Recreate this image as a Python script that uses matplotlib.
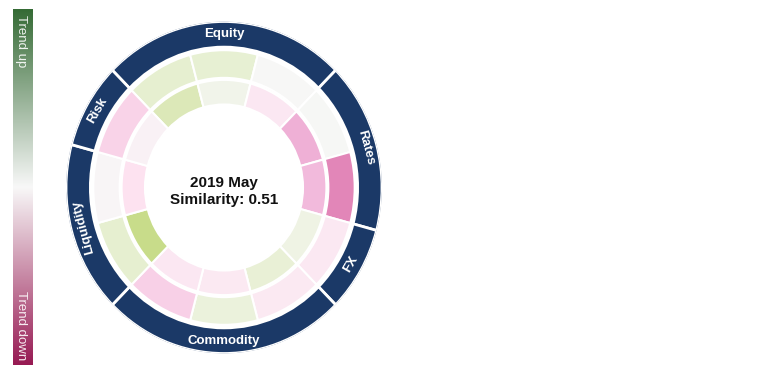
import numpy as np
import matplotlib
matplotlib.use("Agg")
import matplotlib.pyplot as plt
from matplotlib.colors import LinearSegmentedColormap, Normalize


# =========================
# data
# =========================
categories = ["Equity", "Rates", "FX", "Commodity", "Liquidity", "Risk"]
category_slots = [3, 2, 1, 3, 2, 1]   # number of 30° slots per category

# one value per slot, clockwise from the left edge of Equity (-1 = trend down, +1 = trend up)
outer_values = [0.20, 0.18, 0.00, 0.01, -0.55, -0.13, -0.12, 0.14, -0.28, 0.20, -0.02, -0.26]
inner_values = [0.26, 0.07, -0.14, -0.42, -0.38, 0.10, 0.17, -0.12, -0.14, 0.38, -0.18, -0.05]

period = "2019 May"
similarity = 0.51


# =========================
# style
# =========================
plt.rcParams["font.family"] = ["Liberation Sans", "DejaVu Sans"]

NAVY = "#1b3967"
seg_cmap = LinearSegmentedColormap.from_list(
    "seg",
    ["#8e0152", "#c51b7d", "#de77ae", "#f1b6da", "#fde0ef", "#f7f7f7",
     "#e6efd0", "#c5da82", "#8fb04a", "#55882a", "#276419"],
)
trend_cmap = LinearSegmentedColormap.from_list("trend", ["#971a53", "#f8f8f8", "#356b35"])
norm = Normalize(-1, 1)

W, H = 770, 374
fig = plt.figure(figsize=(W / 100, H / 100), dpi=100)

# ---- ring chart (slightly taller than wide, as in the source)
cx, cy, R = 224, 186.5, 162
rx, ry = 158, 166
ax = fig.add_axes([(cx - rx) / W, (cy - ry) / H, 2 * rx / W, 2 * ry / H], projection="polar")
ax.set_aspect("auto")
ax.set_theta_zero_location("N")
ax.set_theta_direction(-1)
ax.set_ylim(0, R)
ax.set_axis_off()

n = len(outer_values)
step = 2 * np.pi / n
start = -np.pi / 4
lefts = start + step * np.arange(n)

ax.bar(lefts, 27, width=step, bottom=107, align="edge",
       color=seg_cmap(norm(outer_values)), edgecolor="white", linewidth=1.5)
ax.bar(lefts, 24, width=step, bottom=81, align="edge",
       color=seg_cmap(norm(inner_values)), edgecolor="white", linewidth=1.5)

slots = np.array(category_slots)
cat_left = start + step * np.concatenate([[0], np.cumsum(slots)[:-1]])
cat_width = step * slots
ax.bar(cat_left, 25, width=cat_width, bottom=137, align="edge",
       color=NAVY, edgecolor="white", linewidth=2)

for name, left, w in zip(categories, cat_left, cat_width):
    mid = left + w / 2
    c = np.degrees(mid) % 360
    rot = -c
    if 90 < c < 250:
        rot += 180
    ax.text(mid, 150, name, rotation=rot, rotation_mode="anchor",
            ha="center", va="center", color="white", fontsize=9.5, fontweight="bold")

fig.text(cx / W, (H - 191.5) / H, f"{period}\nSimilarity: {similarity:.2f}",
         ha="center", va="center", fontsize=11, fontweight="bold",
         linespacing=1.25, color="#111111")

# ---- colour legend
cax = fig.add_axes([13 / W, 9 / H, 20 / W, 356 / H])
grad = np.linspace(1, -1, 256).reshape(-1, 1)
cax.imshow(grad, cmap=trend_cmap, norm=norm, aspect="auto", extent=(0, 1, -1, 1))
cax.set_axis_off()
cax.text(0.42, 1 - 6 / 356, "Trend up", transform=cax.transAxes, rotation=-90,
         rotation_mode="anchor", ha="left", va="center", color="white", fontsize=9.5, alpha=0.9)
cax.text(0.42, 5 / 356, "Trend down", transform=cax.transAxes, rotation=-90,
         rotation_mode="anchor", ha="right", va="center", color="white", fontsize=9.5, alpha=0.9)

fig.savefig("out.png", dpi=100)
